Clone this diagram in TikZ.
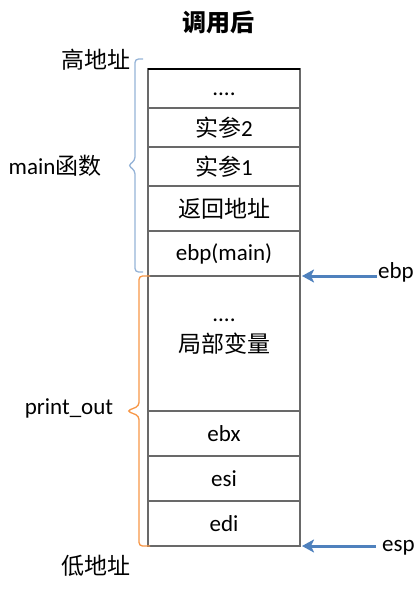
\documentclass[tikz,border=0pt]{standalone}
\usepackage{fontspec}
\setmainfont{Carlito}
\newfontfamily\cjk{Noto Sans CJK SC}
\usetikzlibrary{arrows.meta, positioning}
\definecolor{bracebl}{RGB}{149,179,215}
\definecolor{braceor}{RGB}{247,150,70}
\definecolor{ptrbl}{RGB}{79,129,189}
\definecolor{cellgr}{RGB}{105,105,105}

\begin{document}
\begin{tikzpicture}[
  x=1pt, y=-1pt, node distance=0pt,
  cell/.style={draw=cellgr, line width=1.3pt, minimum width=152pt, minimum height=#1,
    inner sep=0pt, outer sep=0pt, font=\fontsize{23}{27}\selectfont},
  lab/.style={font=\fontsize{23}{27}\selectfont, inner sep=1pt},
  ptr/.style={draw=ptrbl, line width=3pt, -{Stealth[length=12pt,width=13pt,inset=3pt]}},
  brc/.style={line width=1.3pt, rounded corners=3.5pt}
]
\useasboundingbox (0,0) rectangle (415,596);
\node[font=\fontsize{24}{28}\selectfont\cjk\bfseries] (title) at (218,22) {调用后};
% stack cells, top = high address
\node[cell=39pt, anchor=north] (r1) at (224,69) {\vphantom{A}....};
\node[cell=39pt, below=of r1] (r2) {{\cjk 实参}2};
\node[cell=39pt, below=of r2] (r3) {{\cjk 实参}1};
\node[cell=45pt, below=of r3] (r4) {\cjk 返回地址};
\node[cell=45pt, below=of r4] (r5) {ebp(main)};
\node[cell=135pt, below=of r5] (r6) {\cjk 局部变量};
\node[cell=45pt, below=of r6] (r7) {ebx};
\node[cell=45pt, below=of r7] (r8) {esi};
\node[cell=45pt, below=of r8] (r9) {edi};
\node[lab, above=29pt of r6.center, anchor=center] (dots) {\vphantom{A}....};
\draw[line width=1.3pt] (r1.north west) -- (r1.north east);
% frames
\coordinate (mtop) at ([xshift=-5pt,yshift=10pt]r1.north west);
\coordinate (ptop) at ([xshift=2pt]r6.north west);
\draw[brc, bracebl] (mtop) -- ++(-8,0) -- ++(0,101.5) -- ++(-7,5) -- ++(7,5) -- ++(0,101.5) -- ++(8,0);
\draw[brc, braceor] (ptop) -- ++(-11,0) -- ++(0,130) -- ++(-12,5) -- ++(12,5) -- ++(0,130) -- ++(11,0);
\node[lab, font=\fontsize{23}{27}\selectfont\cjk] (high) at (96,60) {高地址};
\node[lab] (mainf) at (55,166) {main{\cjk 函数}};
\node[lab] (pout) at (69,408) {print\_out};
\node[lab, font=\fontsize{23}{27}\selectfont\cjk] (low) at (96,566) {低地址};
% registers
\node[lab, anchor=west] (ebp) at (377,272) {ebp};
\node[lab, anchor=west] (esp) at (381,548) {esp};
\draw[ptr] (ebp.west |- r5.south east) -- ([xshift=2pt]r5.south east);
\draw[ptr, shorten <=5pt] (esp.west |- r9.south east) -- ([xshift=2pt]r9.south east);
\end{tikzpicture}
\end{document}
